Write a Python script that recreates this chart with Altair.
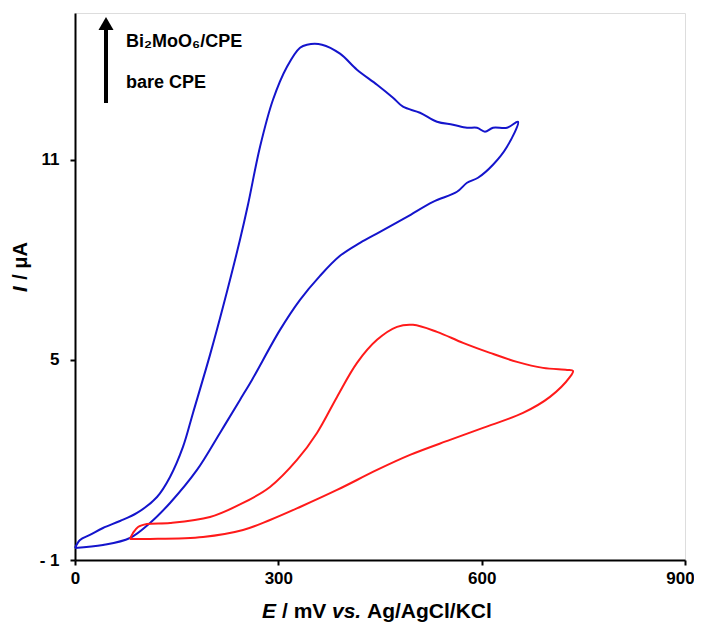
import altair as alt
import pandas as pd

# Bi2MoO6/CPE cyclic voltammogram (E in mV, I in uA), traced as a closed loop
blue_E = [0, 7.4, 22, 41.3, 66.4, 91.5, 121, 140.2, 159.3, 174.1, 199.2, 218.4,
          243.4, 255.2, 273, 292.1, 312.8, 332, 342.3, 364.4, 391, 416, 445.6, 469.2,
          483.9, 509, 534.1, 557.7, 578.4, 593.1, 604.9, 616.7, 637.4, 653.6,
          637.4, 616.7, 594.6, 578.4, 563.6, 528.2, 489.8, 450, 420.5, 391, 361.5, 332,
          302.5, 261.1, 243.4, 213.9, 180, 140.2, 110.7, 81.1, 41.3, 0]
blue_I = [-0.64, -0.4, -0.25, -0.04, 0.17, 0.41, 0.89, 1.49, 2.39, 3.41, 5.15, 6.59,
          8.6, 9.65, 11.39, 12.8, 13.79, 14.36, 14.45, 14.45, 14.18, 13.7, 13.25, 12.86,
          12.59, 12.41, 12.14, 12.05, 11.96, 11.96, 11.84, 11.96, 11.96, 12.14,
          11.39, 10.85, 10.46, 10.31, 10.04, 9.74, 9.29, 8.84, 8.51, 8.12, 7.52, 6.8,
          5.9, 4.4, 3.8, 2.81, 1.7, 0.71, 0.11, -0.34, -0.55, -0.64]

# bare CPE cyclic voltammogram
red_E = [81.1, 85.6, 93, 106.2, 140.2, 199.2, 247.9, 287.7, 327.5, 357, 386.6, 416.1,
         445.6, 475.1, 498.7, 534.1, 572.5, 612.3, 652.1, 690.5, 725.9, 734.8,
         730.3, 700.8, 661, 602, 553.3, 494.3, 445.6, 386.6, 332, 287.7, 247.9,
         188.9, 110.7, 81.1]
red_I = [-0.37, -0.19, -0.01, 0.08, 0.11, 0.29, 0.71, 1.19, 2.0, 2.81, 3.89, 4.91,
         5.6, 5.99, 6.05, 5.84, 5.51, 5.21, 4.94, 4.76, 4.7, 4.67,
         4.49, 3.89, 3.41, 2.96, 2.6, 2.15, 1.7, 1.1, 0.59, 0.2, -0.1,
         -0.31, -0.37, -0.37]

series_names = ["Bi2MoO6/CPE", "bare CPE"]
series_colors = ["#1414CC", "#FF1A1A"]
x_ticks = [0, 300, 600, 900]
y_ticks = [-1, 5, 11]
legend_labels = ["Bi\u2082MoO\u2086/CPE", "bare CPE"]

rows = []
for name, E, I in [(series_names[0], blue_E, blue_I), (series_names[1], red_E, red_I)]:
    for k, (e, i) in enumerate(zip(E, I)):
        rows.append({"series": name, "E": e, "I": i, "k": k})
df = pd.DataFrame(rows)

FONT = "Liberation Sans"
W, H = 610, 547

lines = alt.Chart(df).mark_line(strokeWidth=2, interpolate="catmull-rom").encode(
    x=alt.X("E:Q", scale=alt.Scale(domain=[0, 900], nice=False),
            axis=alt.Axis(values=x_ticks, title=None, grid=False, domainColor="black",
                          domainWidth=2, tickColor="black", tickWidth=2, tickSize=5,
                          labelFont=FONT, labelFontSize=17, labelFontWeight="bold",
                          labelColor="black", labelPadding=5, labelFlush=False,
                          labelOffset={"expr": "datum.value == 900 ? -5 : 0"})),
    y=alt.Y("I:Q", scale=alt.Scale(domain=[-1, 15.4], nice=False, zero=False),
            axis=alt.Axis(values=y_ticks, title=None, grid=False, domainColor="black",
                          domainWidth=2, tickColor="black", tickWidth=2, tickSize=5,
                          labelFont=FONT, labelFontSize=17, labelFontWeight="bold",
                          labelColor="black", labelPadding=11,
                          labelExpr="datum.value < 0 ? '- ' + abs(datum.value) : datum.label")),
    color=alt.Color("series:N", scale=alt.Scale(domain=series_names, range=series_colors),
                    legend=None),
    detail="series:N",
    order="k:Q",
)

one = alt.Data(values=[{"a": 1}])

def txt(text, x, y, align="left", italic=False, size=21, angle=0, baseline="alphabetic"):
    kw = dict(text=text, align=align, baseline=baseline, font=FONT, fontSize=size,
              fontWeight="bold", color="black")
    if italic:
        kw["fontStyle"] = "italic"
    if angle:
        kw["angle"] = angle
    return alt.Chart(one).mark_text(**kw).encode(x=alt.value(x), y=alt.value(y))

# x-axis title pieces
xt = [
    txt("E", 187, 605, italic=True),
    txt("/ mV", 207, 605),
    txt("vs.", 257, 605, italic=True),
    txt("Ag/AgCl/KCl", 292, 605),
]
# y-axis title pieces (rotated)
yt = [
    txt("I", -48, 279, italic=True, angle=270, size=20),
    txt("/ \u03bcA", -48, 229, align="right", angle=270, size=20),
]

# legend arrow and labels
shaft = alt.Chart(one).mark_rule(color="black", strokeWidth=4).encode(
    x=alt.value(31), y=alt.value(90), y2=alt.value(14))
head = alt.Chart(one).mark_point(
    shape="M-1,0.87L0,-0.87L1,0.87Z", filled=True, color="black", opacity=1,
    size=225).encode(x=alt.value(31), y=alt.value(10.5))
leg = [
    txt(legend_labels[0], 51, 29, baseline="middle", size=18),
    txt(legend_labels[1], 51, 70, baseline="middle", size=18),
]

chart = alt.layer(lines, *xt, *yt, shaft, head, *leg).properties(
    width=W, height=H,
    autosize=alt.AutoSizeParams(type="none"),
    padding={"left": 67, "top": 5, "right": 9, "bottom": 62},
).configure_view(stroke=None).configure(background="white")

chart.save("out.html", embed_options={"renderer": "svg", "actions": False})
